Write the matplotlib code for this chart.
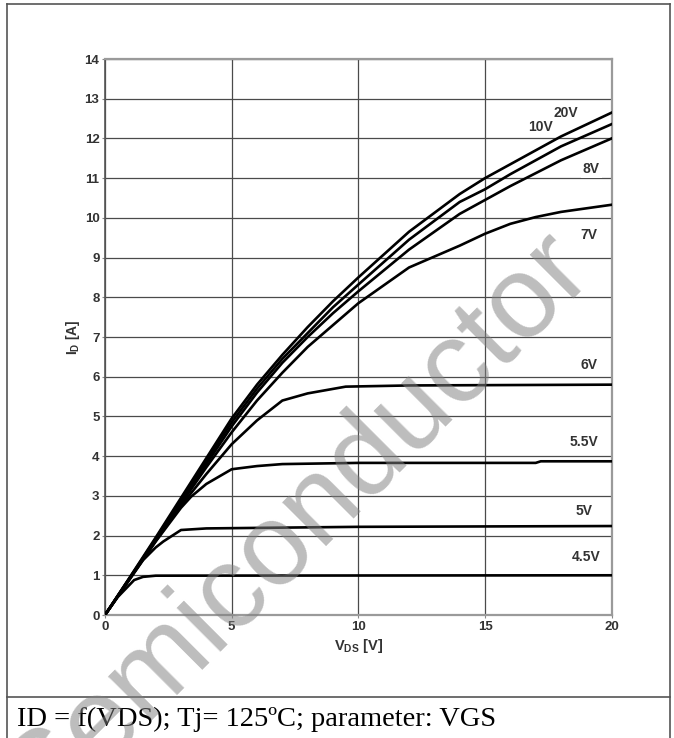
import matplotlib
matplotlib.use('Agg')
import matplotlib.pyplot as plt
from matplotlib.lines import Line2D

plt.rcParams['font.family'] = ['Liberation Sans', 'DejaVu Sans']
plt.rcParams['mathtext.fontset'] = 'custom'
plt.rcParams['mathtext.bf'] = 'Liberation Sans:bold'
plt.rcParams['mathtext.rm'] = 'Liberation Sans:bold'

# ---- data (V_DS in V, I_D in A) ----
vds_20 = [0, 1, 2, 3, 4, 5, 6, 7, 8, 9, 10, 12, 14, 15, 16, 18, 20]
id_20 = [0, 0.97, 1.95, 2.95, 3.95, 4.95, 5.8, 6.55, 7.25, 7.9, 8.5, 9.65, 10.6, 11.0, 11.35, 12.05, 12.65]
vds_10 = [0, 1, 2, 3, 4, 5, 6, 7, 8, 9, 10, 12, 14, 15, 16, 18, 20]
id_10 = [0, 0.96, 1.92, 2.9, 3.88, 4.85, 5.7, 6.45, 7.1, 7.75, 8.32, 9.45, 10.4, 10.72, 11.1, 11.8, 12.36]
vds_8 = [0, 1, 2, 3, 4, 5, 6, 7, 8, 9, 10, 12, 14, 15, 16, 18, 20]
id_8 = [0, 0.95, 1.9, 2.85, 3.8, 4.75, 5.6, 6.35, 7.0, 7.6, 8.15, 9.2, 10.1, 10.45, 10.8, 11.45, 12.0]
vds_7 = [0, 1, 2, 3, 4, 5, 6, 7, 8, 9, 10, 12, 14, 15, 16, 17, 18, 20]
id_7 = [0, 0.94, 1.87, 2.8, 3.72, 4.6, 5.4, 6.1, 6.75, 7.3, 7.85, 8.75, 9.3, 9.6, 9.85, 10.02, 10.15, 10.33]
vds_6 = [0, 1, 2, 3, 4, 5, 6, 7, 8, 9.5, 12, 20]
id_6 = [0, 0.94, 1.86, 2.75, 3.55, 4.3, 4.9, 5.4, 5.58, 5.75, 5.78, 5.8]
vds_55 = [0, 1, 2, 3, 3.4, 4, 5, 6, 7, 10, 17, 17.2, 20]
id_55 = [0, 0.94, 1.85, 2.7, 2.98, 3.3, 3.67, 3.75, 3.8, 3.83, 3.83, 3.87, 3.87]
vds_5 = [0, 1, 1.5, 2, 2.3, 3, 4, 10, 20]
id_5 = [0, 0.92, 1.38, 1.7, 1.85, 2.14, 2.18, 2.22, 2.24]
vds_45 = [0, 0.5, 1.15, 1.5, 2, 20]
id_45 = [0, 0.45, 0.88, 0.96, 0.99, 1.0]

curves = [(vds_20, id_20), (vds_10, id_10), (vds_8, id_8), (vds_7, id_7),
          (vds_6, id_6), (vds_55, id_55), (vds_5, id_5), (vds_45, id_45)]
labels = ['20V', '10V', '8V', '7V', '6V', '5.5V', '5V', '4.5V']
label_x = [18.2, 17.2, 19.2, 19.1, 19.1, 18.9, 18.9, 19.0]
label_y = [12.65, 12.3, 11.23, 9.57, 6.3, 4.35, 2.62, 1.45]

fig = plt.figure(figsize=(6.74, 7.38), dpi=100)
ax = fig.add_axes([105 / 674, 1 - 615 / 738, (611.7 - 105) / 674, (615 - 59) / 738])

for x, y in curves:
    ax.plot(x, y, color='black', lw=1.9, solid_joinstyle='round', zorder=3)

for t, lx, ly in zip(labels, label_x, label_y):
    ax.text(lx, ly, t, ha='center', va='center', fontsize=10, fontweight='bold',
            color='#333333', zorder=4,
            bbox=dict(boxstyle='square,pad=0.12', fc='white', ec='none'))

ax.set_xlim(0, 20)
ax.set_ylim(0, 14)
ax.set_xticks([0, 5, 10, 15, 20])
ax.set_yticks(range(0, 15))
ax.grid(True, color='#4a4a4a', lw=0.9, zorder=1)
ax.set_axisbelow(True)
ax.tick_params(length=2, width=0.8, color='#888888', labelsize=9.5, labelcolor='#333333', pad=2)
for lab in ax.get_xticklabels() + ax.get_yticklabels():
    lab.set_fontweight('bold')
for s in ['top', 'right', 'bottom']:
    ax.spines[s].set_color('#9a9a9a')
    ax.spines[s].set_linewidth(1.6)
ax.spines['left'].set_color('#555555')
ax.spines['left'].set_linewidth(1.2)

ax.set_xlabel(r'$\mathbf{V_{DS}}$ [V]', fontsize=10.5, fontweight='bold', color='#333333', labelpad=3)
ax.set_ylabel(r'$\mathbf{I_D}$ [A]', fontsize=10, fontweight='bold', color='#333333', labelpad=2)

# table frame around the chart and caption
frame = dict(color='#555555', lw=1.2, transform=fig.transFigure)
fig.add_artist(Line2D([7 / 674, 670 / 674], [1 - 4 / 738, 1 - 4 / 738], **frame))
fig.add_artist(Line2D([7 / 674, 7 / 674], [0, 1 - 4 / 738], **frame))
fig.add_artist(Line2D([670 / 674, 670 / 674], [0, 1 - 4 / 738], **frame))
fig.add_artist(Line2D([7 / 674, 670 / 674], [1 - 697 / 738, 1 - 697 / 738], **frame))
fig.text(17 / 674, 1 - 719 / 738, 'ID = f(VDS); Tj= 125ºC; parameter: VGS',
         family='Liberation Serif', fontsize=20.5, ha='left', va='center', color='black')

# watermark
fig.text(45 / 674, 1 - 822 / 738, 'Semiconductor', fontsize=84, color='#808080', alpha=0.52,
         rotation=45, rotation_mode='anchor', ha='left', va='baseline', zorder=10)

fig.savefig('out.png', dpi=100)
